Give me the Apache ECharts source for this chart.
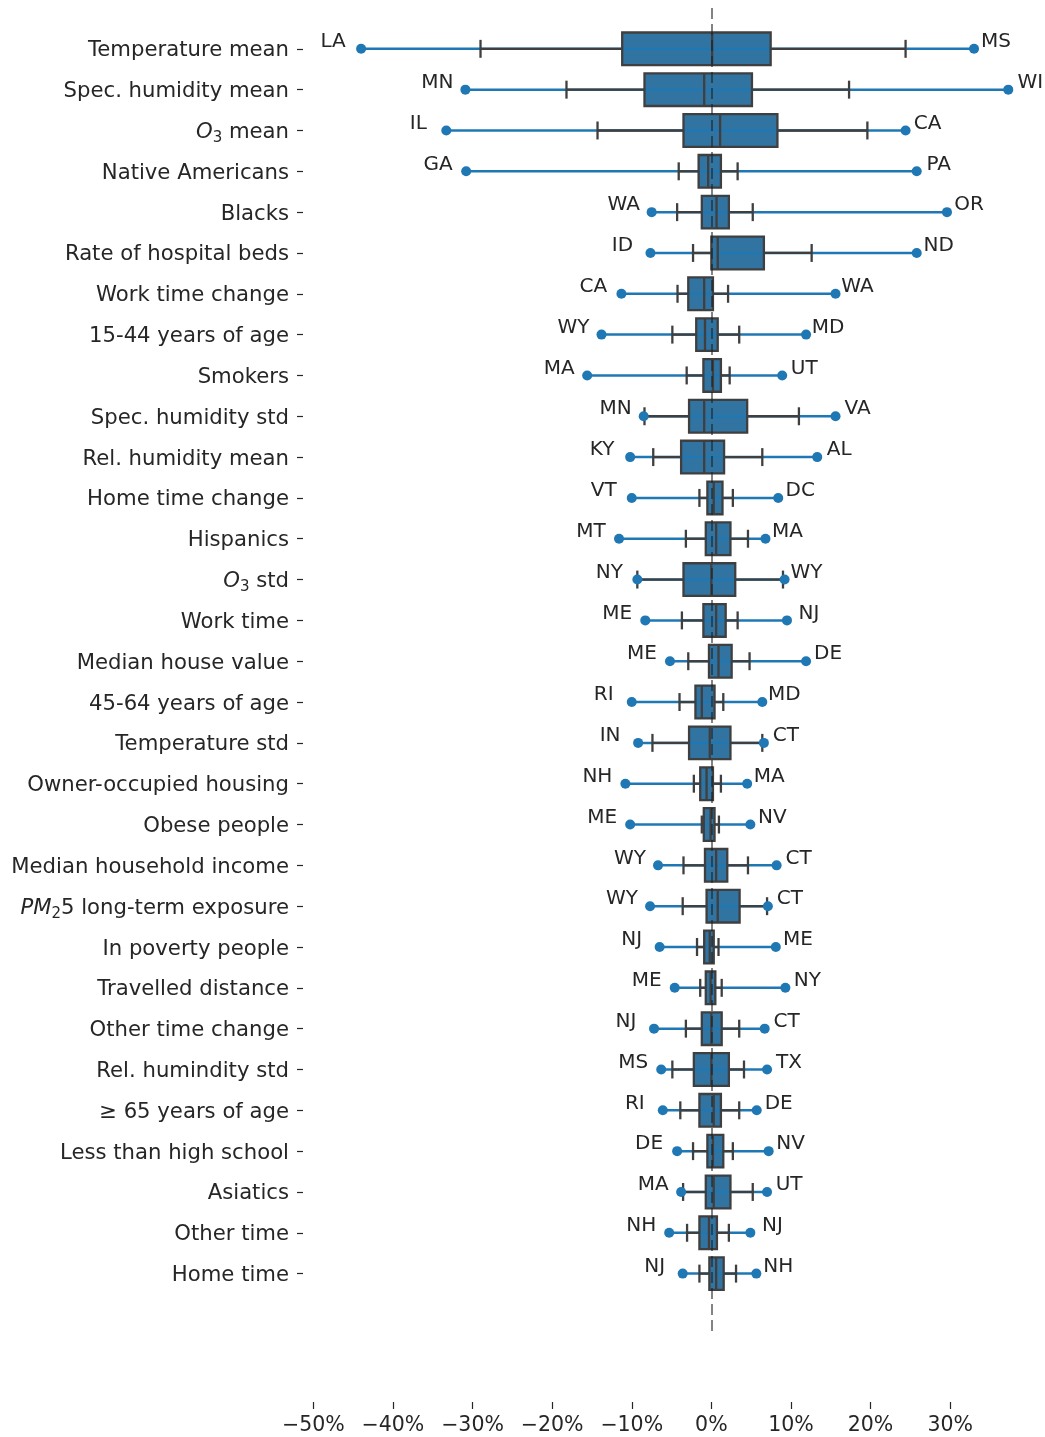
<!DOCTYPE html>
<html>
<head>
<meta charset="utf-8">
<script src="https://cdn.jsdelivr.net/npm/echarts@6/dist/echarts.min.js"></script>
<style>
  html, body { margin: 0; padding: 0; background: #fff; }
  #chart { width: 1045px; height: 1437px; }
</style>
</head>
<body>
<div id="chart"></div>
<script>
// row labels, top to bottom
const categories = [
  'Temperature mean', 'Spec. humidity mean', 'O3 mean', 'Native Americans', 'Blacks',
  'Rate of hospital beds', 'Work time change', '15-44 years of age', 'Smokers', 'Spec. humidity std',
  'Rel. humidity mean', 'Home time change', 'Hispanics', 'O3 std', 'Work time',
  'Median house value', '45-64 years of age', 'Temperature std', 'Owner-occupied housing', 'Obese people',
  'Median household income', 'PM25 long-term exposure', 'In poverty people', 'Travelled distance', 'Other time change',
  'Rel. humindity std', '\u2265 65 years of age', 'Less than high school', 'Asiatics', 'Other time',
  'Home time'
]

// extremes (%) and the state they belong to
const minVal = [-44.0, -30.9, -33.3, -30.8, -7.5, -7.65, -11.3, -13.8, -15.6, -8.5,
  -10.2, -10.0, -11.6, -9.3, -8.3, -5.2, -10.0, -9.2, -10.8, -10.2,
  -6.7, -7.7, -6.5, -4.6, -7.2, -6.3, -6.1, -4.3, -3.8, -5.3, -3.6]
const minState = ['LA', 'MN', 'IL', 'GA', 'WA', 'ID', 'CA', 'WY', 'MA', 'MN',
  'KY', 'VT', 'MT', 'NY', 'ME', 'ME', 'RI', 'IN', 'NH', 'ME',
  'WY', 'WY', 'NJ', 'ME', 'NJ', 'MS', 'RI', 'DE', 'MA', 'NH', 'NJ']
const maxVal = [33.0, 37.3, 24.4, 25.8, 29.6, 25.8, 15.6, 11.9, 8.9, 15.6,
  13.3, 8.4, 6.8, 9.2, 9.5, 11.9, 6.4, 6.6, 4.5, 4.9,
  8.2, 7.1, 8.1, 9.3, 6.7, 7.0, 5.7, 7.2, 7.0, 4.9, 5.65]
const maxState = ['MS', 'WI', 'CA', 'PA', 'OR', 'ND', 'WA', 'MD', 'UT', 'VA',
  'AL', 'DC', 'MA', 'WY', 'NJ', 'DE', 'MD', 'CT', 'MA', 'NV',
  'CT', 'CT', 'ME', 'NY', 'CT', 'TX', 'DE', 'NV', 'UT', 'NJ', 'NH']

// box statistics (%)
const whislo = [-29.0, -18.2, -14.3, -4.1, -4.3, -2.3, -4.25, -4.9, -3.1, -8.4,
  -7.3, -1.5, -3.2, -9.3, -3.7, -2.9, -4.0, -7.4, -2.2, -1.2,
  -3.5, -3.6, -1.8, -1.4, -3.2, -4.9, -3.9, -2.3, -3.55, -3.05, -1.5]
const q1 = [-11.2, -8.4, -3.5, -1.6, -1.2, 0.0, -2.9, -1.9, -1.0, -2.8,
  -3.8, -0.5, -0.7, -3.5, -1.0, -0.3, -2.0, -2.8, -1.4, -0.95,
  -0.8, -0.6, -0.9, -0.7, -1.2, -2.2, -1.5, -0.5, -0.7, -1.5, -0.25]
const median = [0.1, -0.9, 1.1, -0.4, 0.65, 0.8, -0.9, -0.8, 0.2, -0.9,
  -0.9, 0.3, 0.6, 0.0, 0.6, 0.9, -1.2, -0.2, -0.6, -0.1,
  0.6, 0.8, -0.2, -0.1, 0.0, 0.0, 0.3, 0.2, 0.3, -0.3, 0.6]
const q3 = [7.45, 5.1, 8.3, 1.2, 2.2, 6.6, 0.2, 0.8, 1.2, 4.5,
  1.6, 1.4, 2.4, 3.0, 1.8, 2.55, 0.4, 2.4, 0.2, 0.4,
  2.0, 3.55, 0.3, 0.5, 1.3, 2.2, 1.2, 1.5, 2.4, 0.7, 1.55]
const whishi = [24.4, 17.3, 19.6, 3.3, 5.2, 12.6, 2.1, 3.5, 2.3, 11.0,
  6.4, 2.7, 4.6, 9.0, 3.3, 4.8, 1.5, 6.4, 1.2, 0.95,
  4.6, 7.0, 0.9, 1.3, 3.5, 4.1, 3.5, 2.7, 5.2, 2.2, 3.1]

const xTicks = [-50, -40, -30, -20, -10, 0, 10, 20, 30]

const FONT = 'DejaVu Sans'
const TEXT = '#262626'
const DARK = '#3f3f3f'
const BLUE = '#1f77b4'
const BOX = '#3274a1'

const rowIdx = categories.map((c, i) => i)

function rowLabel(v) {
  const name = categories[v]
  if (name === 'O3 mean') return '{it|O}{sub|3}{n| mean}'
  if (name === 'O3 std') return '{it|O}{sub|3}{n| std}'
  if (name === 'PM25 long-term exposure') return '{it|PM}{sub|2}{n|5 long-term exposure}'
  return '{n|' + name + '}'
}

function renderBox(params, api) {
  const row = api.value(0)
  const px = k => api.coord([api.value(k), row])[0]
  const cy = api.coord([0, row])[1]
  const band = api.size([0, 1])[1]
  const half = band * 0.4
  const cap = band * 0.22
  const seg = (x1, y1, x2, y2, color, w) => ({
    type: 'line',
    shape: { x1, y1, x2, y2 },
    style: { stroke: color, lineWidth: w }
  })
  const boxShape = { x: px(3), y: cy - half, width: px(5) - px(3), height: 2 * half }
  return {
    type: 'group',
    children: [
      { type: 'rect', shape: boxShape, style: { fill: BOX } },
      seg(px(1), cy, px(7), cy, BLUE, 2.5),
      seg(px(2), cy, px(3), cy, DARK, 2.3),
      seg(px(5), cy, px(6), cy, DARK, 2.3),
      seg(px(2), cy - cap, px(2), cy + cap, DARK, 2.3),
      seg(px(6), cy - cap, px(6), cy + cap, DARK, 2.3),
      { type: 'rect', shape: boxShape, style: { fill: 'none', stroke: DARK, lineWidth: 2.3 } },
      seg(px(4), cy - half, px(4), cy + half, DARK, 2.3)
    ]
  }
}

function stateLabel(names, dx) {
  return {
    show: true,
    position: 'inside',
    offset: [dx, -7],
    fontSize: 20,
    fontFamily: FONT,
    color: TEXT,
    formatter: p => names[p.dataIndex]
  }
}

const chart = echarts.init(document.getElementById('chart'))
chart.setOption({
  animation: false,
  textStyle: { fontFamily: FONT },
  grid: { left: 303, top: 8, width: 718.8, height: 1324 },
  xAxis: {
    type: 'value',
    min: -51.3,
    max: 39,
    offset: 70,
    axisLine: { show: false, onZero: false },
    splitLine: { show: false },
    axisTick: { show: true, customValues: xTicks, length: 7, lineStyle: { color: TEXT, width: 1.2 } },
    axisLabel: {
      customValues: xTicks,
      margin: 13,
      fontSize: 20.5,
      fontFamily: FONT,
      color: TEXT,
      formatter: v => (v < 0 ? '\u2212' : '') + Math.abs(v) + '%'
    }
  },
  yAxis: {
    type: 'value',
    inverse: true,
    min: -1,
    max: 31.43,
    axisLine: { show: false, onZero: false },
    splitLine: { show: false },
    axisTick: { show: true, customValues: rowIdx, length: 6, lineStyle: { color: TEXT, width: 1.2 } },
    axisLabel: {
      customValues: rowIdx,
      margin: 14,
      padding: [4, 0, 0, 0],
      formatter: rowLabel,
      rich: {
        n: { fontSize: 21.2, fontFamily: FONT, color: TEXT, lineHeight: 26 },
        it: { fontSize: 21.2, fontFamily: FONT, fontStyle: 'italic', color: TEXT, lineHeight: 26 },
        sub: { fontSize: 15, fontFamily: FONT, color: TEXT, lineHeight: 27, verticalAlign: 'bottom' }
      }
    }
  },
  series: [
    {
      type: 'custom',
      z: 2,
      renderItem: renderBox,
      encode: { x: [1, 2, 3, 4, 5, 6, 7], y: 0 },
      data: rowIdx.map(i => [i, minVal[i], whislo[i], q1[i], median[i], q3[i], whishi[i], maxVal[i]])
    },
    {
      type: 'scatter',
      z: 3,
      symbolSize: 10,
      itemStyle: { color: BLUE, opacity: 1 },
      label: stateLabel(minState, -28),
      data: rowIdx.map(i => [minVal[i], i])
    },
    {
      type: 'scatter',
      z: 3,
      symbolSize: 10,
      itemStyle: { color: BLUE, opacity: 1 },
      label: stateLabel(maxState, 22),
      data: rowIdx.map(i => [maxVal[i], i])
    },
    {
      type: 'line',
      z: 10,
      data: [],
      markLine: {
        silent: true,
        symbol: 'none',
        label: { show: false },
        lineStyle: { color: 'rgba(30,30,30,0.55)', width: 2, type: [11, 5] },
        data: [{ xAxis: 0 }]
      }
    }
  ]
})
</script>
</body>
</html>
